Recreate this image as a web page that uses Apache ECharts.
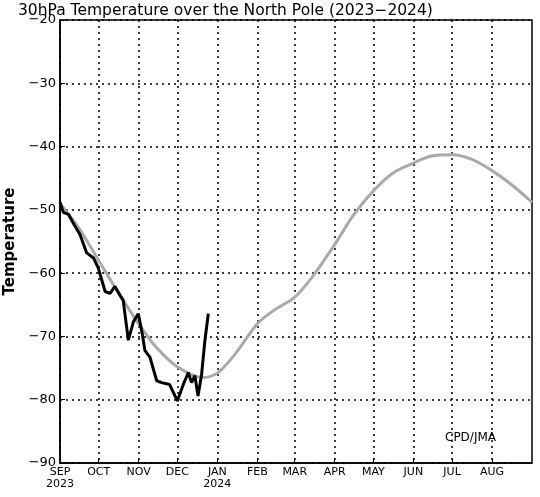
<!DOCTYPE html>
<html><head><meta charset="utf-8">
<script src="https://cdn.jsdelivr.net/npm/echarts@6/dist/echarts.min.js"></script>
<style>html,body{margin:0;padding:0;background:#fff}#c{width:540px;height:497px}</style>
</head><body><div id="c"></div>
<script>
// x = days since 1 Sep 2023
const monthDays = [0,30,61,91,122,153,182,213,243,274,304,335];
const monthLabels = ['SEP\n2023','OCT','NOV','DEC','JAN\n2024','FEB','MAR','APR','MAY','JUN','JUL','AUG'];
const climDays = [0,15,30,45,61,75,91,110,122,135,153,165,182,196,213,227,243,258,274,288,304,319,335,350,366];
const climVals = [-49,-53,-58,-63,-68,-71.8,-74.8,-76.5,-75.8,-73,-68,-66,-63.8,-60.5,-55.5,-51,-47,-44.2,-42.6,-41.5,-41.3,-42,-43.8,-46,-48.8];
const obsDays = [0,2.6,6.5,10,15.5,20.7,26,29.7,35,38.8,42.6,46.5,49,53,56.9,60.7,63.8,65.8,69.8,75,78.8,85,88,91,95.6,99.5,102,104.6,107,109.8,112.4,115];
const obsVals = [-48.8,-50.4,-50.7,-52,-53.9,-56.8,-57.6,-59.2,-62.9,-63.2,-62.1,-63.5,-64.3,-70.6,-67.7,-66.4,-69.6,-72.2,-73.3,-77,-77.3,-77.6,-78.9,-80.2,-77.6,-75.7,-77.3,-76.2,-79.4,-76,-70.6,-66.4];
const yTicks = [-90,-80,-70,-60,-50,-40,-30,-20];

const ch = echarts.init(document.getElementById('c'));
const fnt = 'DejaVu Sans';
ch.setOption({
  animation:false,
  title:{text:'30hPa Temperature over the North Pole (2023\u22122024)',left:13,top:-2,
    textStyle:{fontFamily:fnt,fontSize:15.5,fontWeight:'normal',color:'#000'}},
  grid:{left:60,right:8,top:20,bottom:34,containLabel:false,outerBoundsMode:'none'},
  xAxis:{type:'value',min:0,max:366,
    axisLine:{onZero:false,lineStyle:{color:'#000',width:1.5}},
    splitLine:{show:true,lineStyle:{color:'#000',type:[2,4],width:1.5},customValues:monthDays},
    axisTick:{show:true,inside:true,length:5,lineStyle:{color:'#000'},customValues:monthDays},
    axisLabel:{customValues:monthDays,formatter:v=>monthLabels[monthDays.indexOf(v)]||'',
      color:'#000',fontFamily:fnt,fontSize:11,lineHeight:12,margin:3,align:'center'}},
  yAxis:{type:'value',min:-90,max:-20,interval:10,name:'Temperature',nameLocation:'middle',nameGap:38,
    nameTextStyle:{fontFamily:fnt,fontSize:15,fontWeight:'bold',color:'#000'},
    axisLine:{show:true,lineStyle:{color:'#000',width:1.5}},
    axisTick:{show:true,inside:true,length:5,lineStyle:{color:'#000'}},
    splitLine:{show:true,lineStyle:{color:'#000',type:[2,4],width:1.5}},
    axisLabel:{color:'#000',fontFamily:fnt,fontSize:13,margin:4,
      formatter:v=>yTicks.includes(v)?String(v).replace('-','\u2212'):''}},
  graphic:[{type:'rect',shape:{x:60,y:20,width:472,height:443},style:{fill:'none',stroke:'#000',lineWidth:1.5},silent:true},
    {type:'text',left:445,top:432,style:{text:'CPD/JMA',fontFamily:fnt,fontSize:12,fill:'#000'}}],
  series:[
    {type:'line',data:climDays.map((d,i)=>[d,climVals[i]]),smooth:0.3,showSymbol:false,
     lineStyle:{color:'#aaaaaa',width:3}},
    {type:'line',data:obsDays.map((d,i)=>[d,obsVals[i]]),showSymbol:false,
     lineStyle:{color:'#000',width:3}}
  ]
});
</script></body></html>
